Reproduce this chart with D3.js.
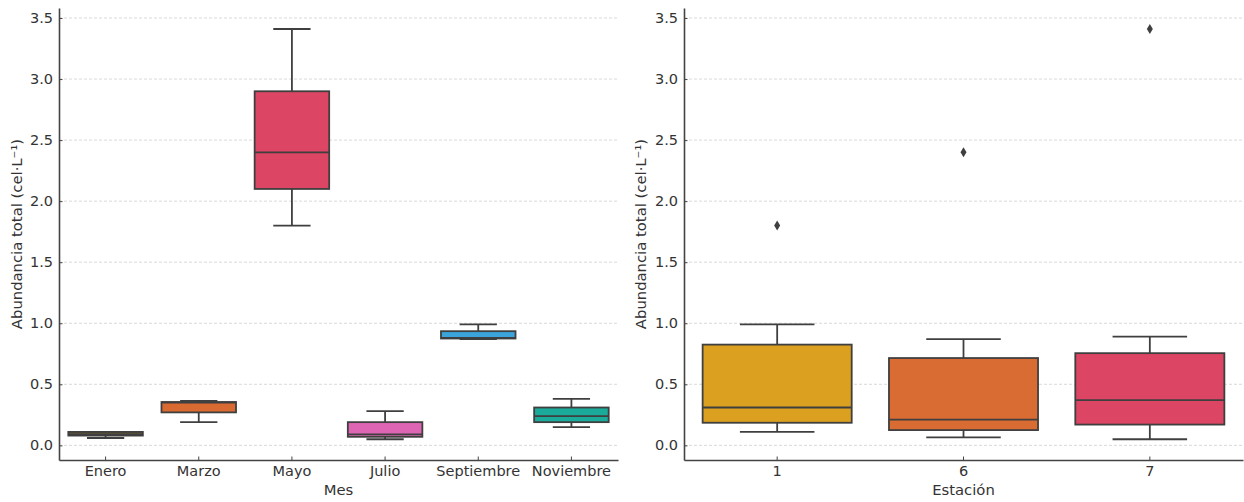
<!DOCTYPE html>
<html>
<head>
<meta charset="utf-8">
<script src="https://cdn.jsdelivr.net/npm/d3@7"></script>
<style>
  body { margin: 0; background: #fff; }
  svg { display: block; }
  svg text { font-family: "DejaVu Sans", sans-serif; }
  .tick text { fill: #333; font-size: 14.5px; }
  .axis-title { fill: #333; font-size: 14.8px; }
</style>
</head>
<body>
<svg id="chart" width="1244" height="502"></svg>
<script>
// Monthly summary (whisker low, Q1, median, Q3, whisker high)
const months = ["Enero", "Marzo", "Mayo", "Julio", "Septiembre", "Noviembre"];
const monthLow  = [0.06, 0.19, 1.80, 0.05, 0.87, 0.15];
const monthQ1   = [0.08, 0.27, 2.10, 0.07, 0.875, 0.19];
const monthMed  = [0.09, 0.35, 2.40, 0.09, 0.88, 0.24];
const monthQ3   = [0.11, 0.355, 2.90, 0.19, 0.935, 0.31];
const monthHigh = [0.11, 0.365, 3.41, 0.28, 0.99, 0.38];
const monthColors = ["#6b5a32", "#d96a31", "#dc4563", "#de65b4", "#3ba5db", "#1aab9a"];

// Station summary
const stations = ["1", "6", "7"];
const stationLow  = [0.11, 0.065, 0.05];
const stationQ1   = [0.185, 0.125, 0.17];
const stationMed  = [0.31, 0.21, 0.37];
const stationQ3   = [0.825, 0.715, 0.755];
const stationHigh = [0.99, 0.87, 0.89];
const stationOutliers = [[1.80], [2.40], [3.41]];
const stationColors = ["#dca020", "#d96c33", "#dc4563"];

const yTicks = [0, 0.5, 1.0, 1.5, 2.0, 2.5, 3.0, 3.5];
const yDomain = [-0.12, 3.582];

const svg = d3.select("#chart");
const plotTop = 8, plotBottom = 460;

function panel(opts) {
  const { left, right, cats, low, q1, med, q3, high, outliers, colors, xTitle, yTitleX } = opts;
  const x = d3.scaleBand().domain(cats).range([left, right]).padding(0);
  const y = d3.scaleLinear().domain(yDomain).range([plotBottom, plotTop]);
  const g = svg.append("g");

  // dashed horizontal grid
  g.append("g").selectAll("line").data(yTicks).join("line")
    .attr("x1", left).attr("x2", right)
    .attr("y1", d => y(d)).attr("y2", d => y(d))
    .attr("stroke", "#cfcfcf").attr("stroke-width", 0.8)
    .attr("stroke-dasharray", "3,2");

  const bw = x.bandwidth() * 0.8;
  const cap = bw / 2;
  const stroke = "#3f3f3f";

  const boxes = g.append("g").selectAll("g").data(cats).join("g")
    .attr("transform", d => `translate(${x(d) + x.bandwidth() / 2},0)`);

  // whiskers
  boxes.append("line").attr("x1", 0).attr("x2", 0)
    .attr("y1", (d, i) => y(q3[i])).attr("y2", (d, i) => y(high[i]))
    .attr("stroke", stroke).attr("stroke-width", 1.8);
  boxes.append("line").attr("x1", 0).attr("x2", 0)
    .attr("y1", (d, i) => y(q1[i])).attr("y2", (d, i) => y(low[i]))
    .attr("stroke", stroke).attr("stroke-width", 1.8);
  boxes.append("line").attr("x1", -cap / 2).attr("x2", cap / 2)
    .attr("y1", (d, i) => y(high[i])).attr("y2", (d, i) => y(high[i]))
    .attr("stroke", stroke).attr("stroke-width", 1.8);
  boxes.append("line").attr("x1", -cap / 2).attr("x2", cap / 2)
    .attr("y1", (d, i) => y(low[i])).attr("y2", (d, i) => y(low[i]))
    .attr("stroke", stroke).attr("stroke-width", 1.8);

  // boxes
  boxes.append("rect")
    .attr("x", -bw / 2).attr("width", bw)
    .attr("y", (d, i) => y(q3[i]))
    .attr("height", (d, i) => Math.max(0.5, y(q1[i]) - y(q3[i])))
    .attr("fill", (d, i) => colors[i])
    .attr("stroke", stroke).attr("stroke-width", 1.8);

  // medians
  boxes.append("line").attr("x1", -bw / 2).attr("x2", bw / 2)
    .attr("y1", (d, i) => y(med[i])).attr("y2", (d, i) => y(med[i]))
    .attr("stroke", stroke).attr("stroke-width", 1.8);

  // outliers as diamonds
  if (outliers) {
    boxes.each(function (d, i) {
      d3.select(this).selectAll("path.out").data(outliers[i]).join("path")
        .attr("class", "out")
        .attr("d", v => `M0,${y(v) - 5}L3,${y(v)}L0,${y(v) + 5}L-3,${y(v)}Z`)
        .attr("fill", "#3f3f3f");
    });
  }

  // axes
  const ya = g.append("g").attr("transform", `translate(${left},0)`)
    .call(d3.axisLeft(y).tickValues(yTicks).tickFormat(d3.format(".1f"))
      .tickSizeInner(-3.5).tickSizeOuter(0).tickPadding(6));
  const xa = g.append("g").attr("transform", `translate(0,${plotBottom})`)
    .call(d3.axisBottom(x).tickSizeInner(-3.5).tickSizeOuter(0).tickPadding(6));
  [ya, xa].forEach(a => {
    a.attr("font-family", null).attr("font-size", null);
    a.select(".domain").attr("stroke", "#444").attr("stroke-width", 1.6);
    a.selectAll(".tick line").attr("stroke", "#444").attr("stroke-width", 1);
  });

  g.append("text").attr("class", "axis-title")
    .attr("x", (left + right) / 2).attr("y", 495)
    .attr("text-anchor", "middle").text(xTitle);
  g.append("text").attr("class", "axis-title")
    .attr("transform", `translate(${yTitleX},${(plotTop + plotBottom) / 2}) rotate(-90)`)
    .attr("text-anchor", "middle").attr("dy", "0.35em")
    .text("Abundancia total (cel·L⁻¹)");
}

panel({
  left: 59, right: 618, cats: months,
  low: monthLow, q1: monthQ1, med: monthMed, q3: monthQ3, high: monthHigh,
  outliers: null, colors: monthColors, xTitle: "Mes", yTitleX: 17
});
panel({
  left: 684, right: 1243, cats: stations,
  low: stationLow, q1: stationQ1, med: stationMed, q3: stationQ3, high: stationHigh,
  outliers: stationOutliers, colors: stationColors, xTitle: "Estación", yTitleX: 641
});
</script>
</body>
</html>
